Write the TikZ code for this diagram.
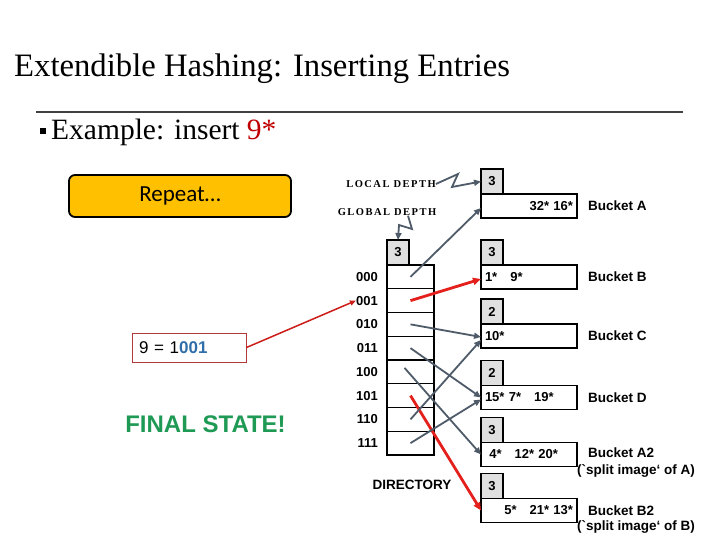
\documentclass[tikz,border=0pt]{standalone}
\usepackage{fontspec}
\setmainfont{Liberation Serif}
\newfontfamily\arialf{Liberation Sans}
\newfontfamily\calf{Carlito}
\newfontfamily\depthf{Liberation Serif}[LetterSpace=14]
\usetikzlibrary{positioning,arrows.meta}
\definecolor{slidered}{HTML}{E3201B}
\definecolor{slidegrey}{HTML}{4F5B69}
\definecolor{repeatorange}{HTML}{FFC000}
\definecolor{finalgreen}{HTML}{1F9A55}
\definecolor{bitblue}{HTML}{2F6EAA}
\definecolor{boxred}{HTML}{B03A3A}
\definecolor{titlered}{HTML}{C00000}
\tikzset{
  slot/.style  ={draw, line width=1.2pt, minimum width=47pt, minimum height=23.75pt,
                 inner sep=0pt, outer sep=0pt},
  bkt/.style   ={draw, line width=1.5pt, minimum width=96pt, minimum height=24pt,
                 text width=88pt, inner sep=3pt, outer sep=0pt, align=left,
                 font=\arialf\bfseries\fontsize{13}{13}\selectfont},
  ldbox/.style ={draw, line width=1.5pt, fill=black!12, minimum width=22pt,
                 minimum height=25pt, inner sep=0pt, outer sep=0pt,
                 font=\arialf\bfseries\fontsize{13}{13}\selectfont},
  bitlbl/.style={font=\arialf\bfseries\fontsize{13}{13}\selectfont, inner sep=0pt},
  bname/.style ={font=\arialf\bfseries\fontsize{13.5}{14}\selectfont, anchor=west,
                 inner sep=0pt},
  dlbl/.style  ={font=\depthf\bfseries\fontsize{10.5}{11}\selectfont, inner sep=0pt},
  garr/.style  ={-{Triangle[length=7pt,width=6pt]}, slidegrey, line width=1.8pt},
  rarr/.style  ={-{Triangle[length=8pt,width=7pt]}, slidered, line width=2.8pt},
}

\begin{document}
\begin{tikzpicture}[x=1pt, y=-1pt]
  \useasboundingbox[fill=white] (0,0) rectangle (720,540);

  % title and bullet line
  \node[anchor=base west, inner sep=0pt, font=\fontsize{32.7}{36}\selectfont] (title) at (14,77)
    {Extendible Hashing: Inserting Entries};
  \draw[line width=2pt, black!75] (36,112) -- (683,112);
  \node[anchor=base west, inner sep=0pt, font=\fontsize{29.5}{31}\selectfont] (ex) at (40,140)
    {\rule[5.5pt]{6pt}{6pt}\hspace{5pt}Example: insert {\color{titlered}9*}};

  % left side
  \node[draw, line width=1.8pt, rounded corners=6pt, fill=repeatorange, minimum width=222pt,
        minimum height=42pt, font=\calf\fontsize{23}{24}\selectfont] (rep) at (180,196) {Repeat…};
  \node[draw=boxred, line width=1pt, minimum height=29pt, text width=100pt, inner xsep=7pt,
        align=left, font=\arialf\fontsize{17}{18}\selectfont] (nine) at (189,347.5)
    {9 = 1{\color{bitblue}\bfseries 001}};
  \node[font=\arialf\bfseries\fontsize{24}{26}\selectfont, text=finalgreen] (final) at (205.5,424)
    {FINAL STATE!};

  % directory
  \foreach \i in {0,...,7}
    \node[slot] (d\i) at (410.5,{276.875+23.75*\i}) {};
  \foreach \b [count=\i from 0] in {000,001,010,011,100,101,110,111}
    \node[bitlbl, left=9pt of d\i] (l\i) {\b};
  \node[ldbox, above right=0pt and 0pt of d0.north west] (gd) {3};
  \node[bitlbl, font=\arialf\bfseries\fontsize{13.5}{14}\selectfont] (dir) at (412,485) {DIRECTORY};

  % depth labels
  \node[dlbl] (ldl) at (391,184) {LOCAL DEPTH};
  \node[dlbl] (gdl) at (387,212) {GLOBAL DEPTH};

  % buckets
  \node[bkt, align=right] (bA) at (529,206) {32*~16*};
  \node[bkt] (bB)  at (529,277)   {1*~~~9*};
  \node[bkt] (bC)  at (529,336)   {10*};
  \node[bkt] (bD)  at (529,397.5) {15*~7*~~~19*};
  \node[bkt] (bA2) at (529,454.5) {~4*~~~12*~20*};
  \node[bkt, align=right] (bB2) at (529,510.5) {5*~~~21*~13*};
  \foreach \b/\d in {A/3,B/3,C/2,D/2,A2/3,B2/3}
    \node[ldbox, above right=0pt and 0pt of b\b.north west] (ld\b) {\d};
  \node[bname, right=11pt of bA] (nA) {Bucket A};
  \node[bname, right=11pt of bB] (nB) {Bucket B};
  \node[bname, right=11pt of bC] (nC) {Bucket C};
  \node[bname, right=11pt of bD] (nD) {Bucket D};
  \node[bname] (nA2) at ([xshift=11pt,yshift=2pt]bA2.east) {Bucket A2};
  \node[bname] (sA2) at ([yshift=-4.5pt]bA2.south east) {(`split image‘ of A)};
  \node[bname] (nB2) at ([xshift=11pt]bB2.east) {Bucket B2};
  \node[bname] (sB2) at ([yshift=-4.5pt]bB2.south east) {(`split image‘ of B)};

  % pointers
  \draw[garr] (ldl.east) -- (458,174) -- (452,187) -- (ldA.west);
  \draw[garr] ([xshift=21pt]gdl.south) -- (412,229) -- (399,225) -- (gd.north);
  \draw[garr] (d0.center) -- ([yshift=-2pt]bA.west);
  \draw[rarr] (d1.center) -- ([yshift=-2pt]bB.west);
  \draw[garr] (d2.center) -- ([yshift=-1pt]bC.west);
  \draw[garr] (d3.center) -- (bD.west);
  \draw[garr] ([xshift=-6pt,yshift=4pt]d4.center) -- (bA2.west);
  \draw[rarr] (d5.center) -- (bB2.west);
  \draw[garr] (d6.center) -- ([yshift=-4pt]bC.west);
  \draw[garr] (d7.center) -- ([yshift=-2pt]bD.west);
  \draw[-{Triangle[length=6pt,width=5pt]}, slidered!90!black, line width=1.5pt] (nine.east) -- (l1.west);
\end{tikzpicture}
\end{document}
